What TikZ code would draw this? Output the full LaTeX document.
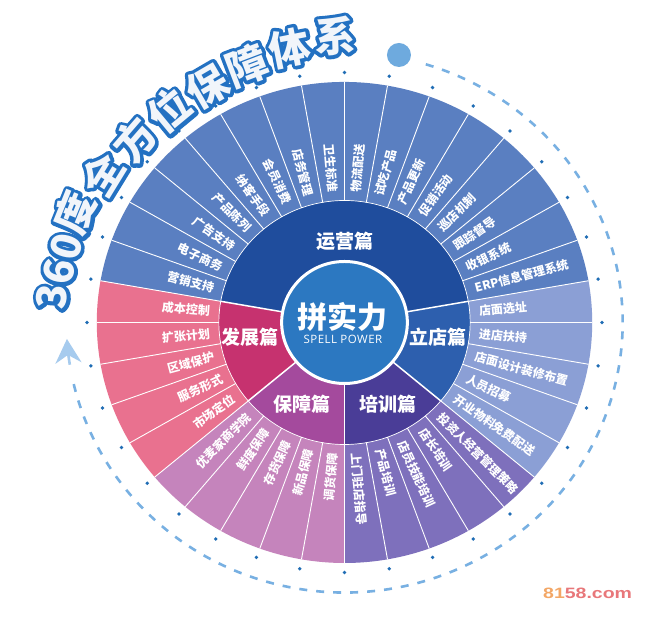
\documentclass[tikz,border=0pt]{standalone}
\usepackage{fontspec}
\usepackage{graphicx}
\usetikzlibrary{arrows.meta,calc}
\newfontfamily\cjk{Noto Sans CJK SC}
\newfontfamily\cjkout{Noto Sans CJK SC}[BoldFeatures={FakeBold=17}]
\setsansfont{Open Sans}
\newfontfamily\wmfont{Liberation Sans}
\definecolor{opout}{HTML}{5A7FC1}
\definecolor{opmid}{HTML}{1F4D9D}
\definecolor{liout}{HTML}{8B9FD5}
\definecolor{limid}{HTML}{2D5FAE}
\definecolor{trout}{HTML}{7E70BC}
\definecolor{trmid}{HTML}{4A3D97}
\definecolor{guout}{HTML}{C584BC}
\definecolor{gumid}{HTML}{A44A9D}
\definecolor{deout}{HTML}{E9718F}
\definecolor{demid}{HTML}{C6326F}
\definecolor{centc}{HTML}{2C78C1}
\definecolor{dotc}{HTML}{1F6DB5}
\definecolor{dashc}{HTML}{78B0E2}
\definecolor{bigdot}{HTML}{6EAADE}
\definecolor{arrowc}{HTML}{A6CBEE}
\definecolor{titleo}{HTML}{2371C2}
\definecolor{titlef}{HTML}{F1F5FA}
\definecolor{wmorange}{HTML}{F3A766}
\definecolor{wmred}{HTML}{E8777A}
\begin{document}
\begin{tikzpicture}[x=1.03pt,y=1pt,
  item/.style={font=\cjk\bfseries\fontsize{12}{12}\selectfont, text=white, inner sep=0pt},
  midlabel/.style={font=\cjk\bfseries\fontsize{19}{19}\selectfont, text=white, inner sep=0pt},
  titleout/.style={font=\cjkout\bfseries\fontsize{41}{41}\selectfont, text=titleo, inner sep=0pt, line join=round},
  titlefill/.style={font=\cjk\bfseries\fontsize{41}{41}\selectfont, text=titlef, inner sep=0pt},
  sepline/.style={white, line width=0.9pt},
  midsep/.style={white, line width=1.5pt}]
\useasboundingbox (-334.47,-297.5) rectangle (306.31,322.5);
\fill[white] (-334.47,-297.5) rectangle (306.31,322.5);
% outer ring sectors
\foreach \s/\e/\c in {10/170/opout, 170/220/deout, 220/270/guout, 270/320/trout, 320/370/liout}{
  \fill[\c] (\s:122) arc[start angle=\s, end angle=\e, radius=122] -- (\e:240.5) arc[start angle=\e, end angle=\s, radius=240.5] -- cycle;
}
% middle ring sectors
\foreach \s/\e/\c in {10/170/opmid, 170/220/demid, 220/270/gumid, 270/320/trmid, 320/370/limid}{
  \fill[\c] (0,0) -- (\s:122) arc[start angle=\s, end angle=\e, radius=122] -- cycle;
}
\foreach \a in {0,10,...,350}{ \draw[sepline] (\a:122) -- (\a:240.5); }
\draw[white, line width=0.7pt] (0,0) circle[radius=122];
\foreach \a in {10,170,220,270,320}{ \draw[midsep] (\a:60) -- (\a:122); }
% centre
\fill[centc] (0,0) circle[radius=60];
\draw[white, line width=3pt] (0,0) circle[radius=61];
\node[font=\cjk\bfseries\fontsize{30}{30}\selectfont, text=white, inner sep=0pt] (core) at (-1.5,6) {拼实力};
\node[font=\sffamily\fontsize{11.5}{11.5}\selectfont\addfontfeatures{LetterSpace=4}, text=white, inner sep=0pt] (sp) at (-1.5,-16.5) {SPELL POWER};
% middle labels
\node[midlabel] (m1) at (0,81.5) {运营篇};
\node[midlabel] (m2) at (90.8,-14.5) {立店篇};
\node[midlabel] (m3) at (42.2,-82) {培训篇};
\node[midlabel] (m4) at (-41.3,-81.5) {保障篇};
\node[midlabel] (m5) at (-91.7,-14.5) {发展篇};
% outer items, right half
\foreach \a/\t [count=\i] in {15/ERP信息管理系统, 25/收银系统, 35/跟踪督导, 45/巡店机制, 55/促销活动, 65/产品更新, 75/试吃产品, 85/物流配送, 5/店面选址, -5/进店扶持, -15/店面设计装修布置, -25/人员招募, -35/开业物料免费配送, -45/投资人经营管理策略, -55/店长培训, -65/店员技能培训, -75/产品培训, -85/上门驻店指导}{
  \node[item, anchor=west, rotate=\a] (r\i) at (\a:131) {\t};
}
% outer items, left half
\foreach \a/\t [count=\i] in {95/卫生标准, 105/店务管理, 115/会员消费, 125/纳客手段, 135/产品陈列, 145/广告支持, 155/电子商务, 165/营销支持, 175/成本控制, 185/扩张计划, 195/区域保护, 205/服务形式, 215/市场定位, 225/优麦家商学院, 235/鲜度保障, 245/存货保障, 255/新品保障, 265/调货保障}{
  \pgfmathsetmacro{\rr}{\a+180}
  \node[item, anchor=east, rotate=\rr] (l\i) at (\a:131) {\t};
}
% dots ring
\foreach \a in {0,10,...,350}{ \fill[dotc] (\a:250) circle[radius=1.9pt]; }
% dashed arc and arrow
\draw[dashc, line width=2.6pt, dash pattern=on 8pt off 9pt] (73:270) arc[start angle=73, end angle=-167, radius=270];
\draw[arrowc, line width=2.6pt, -{Stealth[length=24pt,width=26pt,inset=8pt]}] (-171:270) arc[start angle=-171, end angle=-176.5, radius=270];
\fill[bigdot] (52.9,267.5) circle[radius=12pt];
% title
\foreach \ch/\x/\y/\r [count=\i] in {3/-284.0/25.5/85, 6/-277.2/50.5/80, 0/-270.4/75.5/75, 度/-261.7/109.5/68, 全/-235.1/148.4/58.5, 方/-203.7/182.4/49, 位/-170.2/211.9/39.6, 保/-133.3/236.0/30.2, 障/-94.8/257.1/20.8, 体/-53.3/274.6/11.3, 系/-9.2/286.5/2}{
  \node[titleout, rotate=\r] (to\i) at (\x,\y) {\ch};
  \node[titlefill, rotate=\r] (t\i) at (\x,\y) {\ch};
}
% watermark
\node[anchor=west, inner sep=0pt] (wm) at (192.7,-270.5) {\scalebox{1.3}[1]{\wmfont\bfseries\fontsize{15}{15}\selectfont\textcolor{wmorange}{81}\textcolor{wmred}{58.com}}};
\end{tikzpicture}
\end{document}
